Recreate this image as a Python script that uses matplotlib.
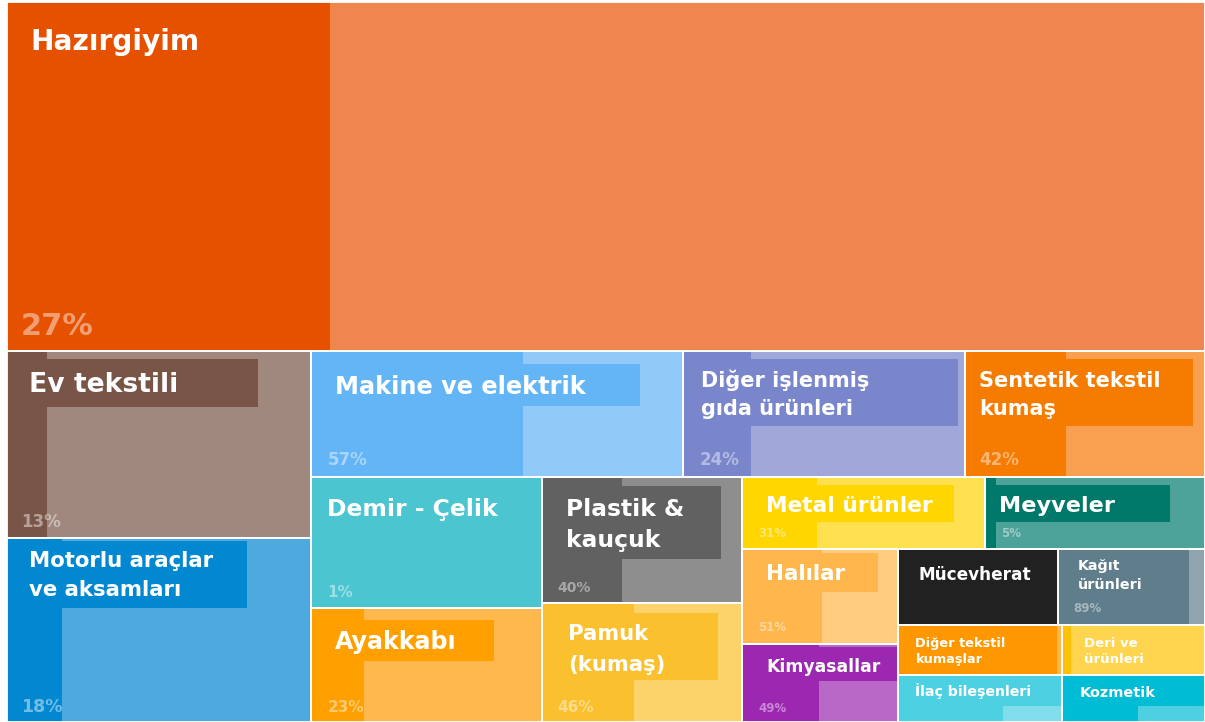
import matplotlib
matplotlib.use("Agg")
import matplotlib.pyplot as plt
from matplotlib.patches import Rectangle

# ---------------- data ----------------
categories = [
    "Hazırgiyim", "Ev tekstili", "Motorlu araçlar\nve aksamları", "Makine ve elektrik",
    "Diğer işlenmiş\ngıda ürünleri", "Sentetik tekstil\nkumaş", "Demir - Çelik", "Ayakkabı",
    "Plastik &\nkauçuk", "Pamuk\n(kumaş)", "Metal ürünler", "Meyveler", "Halılar",
    "Kimyasallar", "Mücevherat", "Kağıt\nürünleri", "Diğer tekstil\nkumaşlar",
    "İlaç bileşenleri", "Deri ve\nürünleri", "Kozmetik",
]
values = [418.1, 56.8, 55.9, 46.5, 35.3, 30.0, 30.3, 26.3, 25.2, 23.8,
          17.5, 15.8, 14.9, 12.2, 12.1, 11.2, 8.2, 7.7, 7.2, 6.7]
shares = [27, 13, 18, 57, 24, 42, 1, 23, 40, 46, 31, 5, 51, 49, 100, 89, 97, 64, 6, 53]
share_shown = [True] * 14 + [False, True, False, False, False, False]

# ---------------- styles ----------------
dark_colors = ["#E65100", "#795548", "#0288D1", "#64B5F6", "#7986CB", "#F57C00", "#4BC5D0",
               "#FFA000", "#616161", "#FBC02D", "#FFD600", "#00796B", "#FFB74D", "#9C27B0",
               "#212121", "#607D8B", "#FF9800", "#4DD0E1", "#FFC107", "#00BCD4"]
light_colors = ["#EF864F", "#A1887F", "#4DA9DE", "#91C9F8", "#A0A8DA", "#F8A04F", "#4BC5D0",
                "#FFB84D", "#8E8E8E", "#FCD36B", "#FFE14F", "#4DA29A", "#FFCC80", "#BA68C8",
                "#212121", "#90A4AE", "#FFB74D", "#80DEEA", "#FFD54F", "#4DD0E1"]

# layout tree: ('h' = split along x, 'v' = split along y)
tree = ('v', [0, ('h', [('v', [1, 2]),
                        ('v', [('h', [3, 4, 5]),
                               ('h', [('v', [6, 7]), ('v', [8, 9]),
                                      ('v', [('h', [10, 11]),
                                             ('h', [('v', [12, 13]),
                                                    ('v', [('h', [14, 15]),
                                                           ('h', [('v', [16, 17]),
                                                                  ('v', [18, 19])])])])])])])])])

# per tile: title size, title dx, title baseline dy, line gap, pct size, pct dx, pct dy-from-bottom,
#           label box right frac, box top offset, box height
tile_style = [
    (20.2, 23, 48, 0, 22, 14, 16, 0.0, 0, 0),
    (19.2, 22, 41, 0, 12, 14, 11, 0.825, 8, 48),
    (15.3, 22, 29, 29, 12.5, 14, 10, 0.79, 3, 67),
    (17.3, 24, 43, 0, 12, 16, 12, 0.885, 13, 42),
    (15, 18, 36, 28, 12, 17, 12, 0.975, 8, 67),
    (15, 14, 36, 28, 12, 14, 12, 0.95, 8, 67),
    (16.9, 16, 39, 0, 11, 16, 11, 0.0, 0, 0),
    (17.1, 24, 41, 0, 11, 16, 10, 0.79, 12, 41),
    (16.8, 24, 39, 31, 10, 15, 11, 0.895, 9, 73),
    (15.2, 26, 37, 31, 11, 15, 10, 0.88, 10, 67),
    (15.7, 24, 35, 0, 8.5, 16, 12, 0.87, 8, 37),
    (16.1, 14, 35, 0, 8.5, 16, 12, 0.84, 8, 37),
    (15.4, 24, 31, 0, 8.5, 16, 13, 0.87, 4, 39),
    (12.4, 24, 28, 0, 8.5, 16, 10, 0.995, 3, 34),
    (12.2, 20, 31, 0, 8.5, 16, 10, 0.0, 0, 0),
    (10.3, 20, 21, 19, 8.5, 16, 13, 0.0, 0, 0),
    (9.3, 17, 22, 16, 8.5, 16, 10, 0.0, 0, 0),
    (10.2, 17, 21, 0, 8.5, 16, 10, 1.0, 0, 31),
    (9.5, 22, 22, 16, 8.5, 16, 10, 0.0, 0, 0),
    (10.4, 18, 22, 0, 8.5, 16, 10, 1.0, 0, 31),
]

FONT = "DejaVu Sans"

# ---------------- layout ----------------
def node_total(node):
    if isinstance(node, int):
        return values[node]
    return sum(node_total(c) for c in node[1])


rects = {}


def do_layout(node, x, y, w, h):
    if isinstance(node, int):
        rects[node] = (x, y, w, h)
        return
    direction, children = node
    tot = node_total(node)
    pos = 0.0
    for c in children:
        f = node_total(c) / tot
        if direction == 'h':
            do_layout(c, x + pos, y, w * f, h)
            pos += w * f
        else:
            do_layout(c, x, y + pos, w, h * f)
            pos += h * f


W, H = 1198, 720
do_layout(tree, 0, 0, W, H)

fig = plt.figure(figsize=(12.05, 7.22), dpi=100)
fig.patch.set_facecolor("white")
ax = fig.add_axes([7 / 1205, 0, 1198 / 1205, 720 / 722])
ax.set_xlim(0, W)
ax.set_ylim(H, 0)
ax.axis("off")

for i, name in enumerate(categories):
    x, y, w, h = rects[i]
    fs, dx, dy, gap, pfs, pdx, pdy, bfrac, boff, bh = tile_style[i]
    ax.add_patch(Rectangle((x, y), w, h, facecolor=light_colors[i], edgecolor="none", zorder=1))
    ax.add_patch(Rectangle((x, y), w * shares[i] / 100, h, facecolor=dark_colors[i],
                           edgecolor="none", zorder=2))
    if bfrac > 0:
        ax.add_patch(Rectangle((x, y + boff), w * bfrac, bh, facecolor=dark_colors[i],
                               edgecolor="none", zorder=3))
    for k, line in enumerate(name.split("\n")):
        ax.text(x + dx, y + dy + k * gap, line, fontsize=fs, fontfamily=FONT,
                fontweight="bold", color="white", ha="left", va="baseline", zorder=5)
    if share_shown[i]:
        ax.text(x + pdx, y + h - pdy, f"{shares[i]}%", fontsize=pfs, fontfamily=FONT,
                fontweight="bold", color="white", alpha=0.45, ha="left", va="baseline", zorder=5)
    ax.add_patch(Rectangle((x, y), w, h, facecolor="none", edgecolor="white", lw=1.3, zorder=6))

fig.savefig("out.png", dpi=100, facecolor="white")
